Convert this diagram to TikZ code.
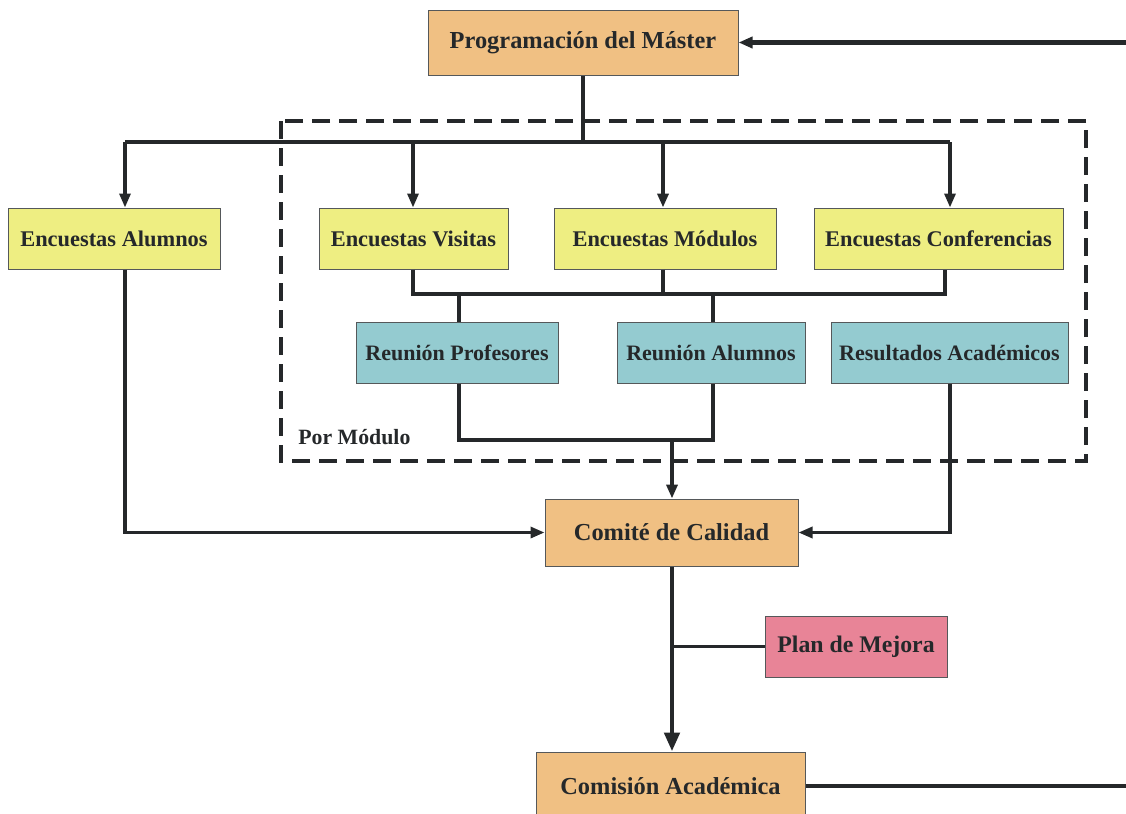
\documentclass[tikz,border=0pt]{standalone}
\usepackage{fontspec}
\setmainfont{Liberation Serif}
\usetikzlibrary{arrows.meta}
\definecolor{cOrange}{HTML}{F0C083}
\definecolor{cYellow}{HTML}{EEEE82}
\definecolor{cTeal}{HTML}{94CBD0}
\definecolor{cPink}{HTML}{E88497}
\definecolor{cLine}{HTML}{25282A}
\definecolor{cBorder}{HTML}{55585A}
\tikzset{
  box/.style={draw=cBorder, line width=0.5pt, inner sep=0pt, text=cLine},
  fo/.style={font=\bfseries\fontsize{12.2}{14}\selectfont},
  fy/.style={font=\bfseries\fontsize{11.2}{13}\selectfont},
  ft/.style={font=\bfseries\fontsize{11}{13}\selectfont},
  fp/.style={font=\bfseries\fontsize{11.9}{14}\selectfont},
  thin/.style={draw=cLine, line width=1.6pt},
  thick/.style={draw=cLine, line width=2.4pt},
  arr/.style={-{Triangle[length=7pt,width=5.5pt]}},
  bigarr/.style={-{Triangle[length=9.5pt,width=7.5pt]}},
}
\begin{document}
\begin{tikzpicture}[x=0.5pt,y=-0.5pt]
\useasboundingbox (0,0) rectangle (1126,814);
\clip (0,0) rectangle (1126,814);
% boxes
\node[box, fo, fill=cOrange, minimum width=155pt, minimum height=32.5pt] (prog) at (583,42.5) {Programación del Máster};
\node[box, fy, fill=cYellow, minimum width=106pt, minimum height=30.5pt] (ealu) at (114,238.5) {Encuestas Alumnos};
\node[box, fy, fill=cYellow, minimum width=94.5pt, minimum height=30.5pt] (evis) at (413.5,238.5) {Encuestas Visitas};
\node[box, fy, fill=cYellow, minimum width=111pt, minimum height=30.5pt] (emod) at (665,238.5) {Encuestas Módulos};
\node[box, fy, fill=cYellow, minimum width=124.5pt, minimum height=30.5pt] (econ) at (938.5,238.5) {Encuestas Conferencias};
\node[box, ft, fill=cTeal, minimum width=101pt, minimum height=30.5pt] (rprof) at (457,352.5) {Reunión Profesores};
\node[box, ft, fill=cTeal, minimum width=94pt, minimum height=30.5pt] (ralu) at (711,352.5) {Reunión Alumnos};
\node[box, ft, fill=cTeal, minimum width=118.5pt, minimum height=30.5pt] (racad) at (949.5,352.5) {Resultados Académicos};
\node[box, fo, fill=cOrange, minimum width=126.5pt, minimum height=33.5pt] (comite) at (671.5,532.5) {Comité de Calidad};
\node[box, fp, fill=cPink, minimum width=91pt, minimum height=30.5pt] (plan) at (856,646.5) {Plan de Mejora};
\node[box, fo, fill=cOrange, minimum width=134.5pt, minimum height=34pt] (comision) at (670.5,786) {Comisión Académica};
% dashed frame
\draw[cLine, line width=2pt, dash pattern=on 9pt off 4.5pt] (281,121) rectangle (1086,461);
\node[font=\bfseries\fontsize{10.9}{12}\selectfont, text=cLine, anchor=west, inner sep=0pt] (pormod) at (298,437) {Por Módulo};
% coordinates
\coordinate (bus) at (583,142);
\coordinate (busL) at (125,142);
\coordinate (busR) at (950,142);
\coordinate (rightTop) at (1126,42.5);
\coordinate (rightBot) at (1126,786);
\coordinate (lowbus) at (672,440);
\coordinate (planj) at (672,646.5);
% top
\draw[thick, arr] (rightTop) -- (prog.east);
\draw[thick] (prog.south -| bus) -- (bus);
\draw[thick] (busL) -- (busR);
\draw[thin, arr] (busL) -- (ealu.north -| busL);
\draw[thin, arr] (413,142) -- (evis.north -| 413,0);
\draw[thick, arr] (663,142) -- (emod.north -| 663,0);
\draw[thin, arr] (busR) -- (econ.north -| busR);
% middle bus
\draw[thin] (evis.south -| 413,0) -- (413,294) -- (945,294) -- (econ.south -| 945,0);
\draw[thick] (emod.south -| 663,0) -- (663,294);
\draw[thick] (459,294) -- (rprof.north -| 459,0);
\draw[thin] (713,294) -- (ralu.north -| 713,0);
% lower
\draw[thin] (rprof.south -| 459,0) -- (459,440) -- (713,440) -- (ralu.south -| 713,0);
\draw[thick, arr] (lowbus) -- (comite.north -| lowbus);
\draw[thin, arr] (ealu.south -| 125,0) -- (125,532.5) -- (comite.west);
\draw[thin, arr] (racad.south -| 950,0) -- (950,532.5) -- (comite.east);
% bottom
\draw[thick, bigarr] (comite.south -| planj) -- (comision.north -| planj);
\draw[thin] (planj) -- (plan.west);
\draw[thick] (comision.east) -- (rightBot);
\end{tikzpicture}
\end{document}
